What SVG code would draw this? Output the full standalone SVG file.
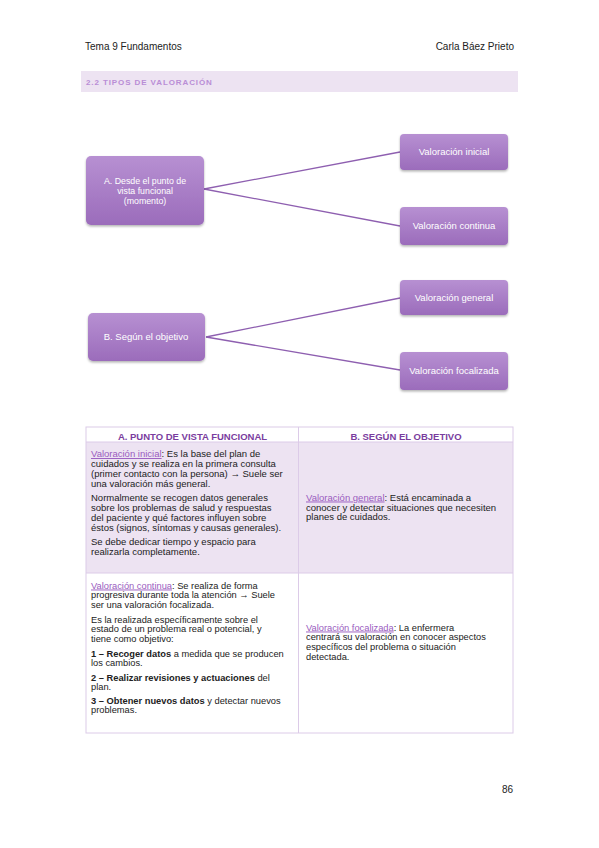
<svg xmlns="http://www.w3.org/2000/svg" width="599" height="848" viewBox="0 0 599 848">
<defs>
<linearGradient id="g" x1="0" y1="0" x2="0" y2="1">
<stop offset="0" stop-color="#b790d2"/>
<stop offset="1" stop-color="#9b6cbb"/>
</linearGradient>
<filter id="sh" x="-10%" y="-10%" width="130%" height="140%">
<feDropShadow dx="0" dy="1.5" stdDeviation="1.2" flood-color="#000" flood-opacity="0.3"/>
</filter>
<style>
text{font-family:"Liberation Sans","DejaVu Sans",sans-serif;}
.hd{font-size:10px;fill:#222;}
.band{font-size:8px;font-weight:bold;fill:#b98dd6;letter-spacing:0.9px;}
.box{fill:url(#g);filter:url(#sh);}
.nt{font-size:9.5px;fill:#fff;text-anchor:middle;}
.nt2{font-size:8.8px;fill:#fff;text-anchor:middle;}
.con{stroke:#8e5fb0;stroke-width:1.3;fill:none;}
.th{font-size:9.5px;font-weight:bold;fill:#7a3d9e;text-anchor:middle;}
.tx{font-size:9.5px;fill:#222;}
.tx2{font-size:9.3px;fill:#222;}
.lk{fill:#9a5cc0;text-decoration:underline;}
.b{font-weight:bold;}
.grid{stroke:#dccbe8;stroke-width:1;fill:none;}
</style>
</defs>
<rect width="599" height="848" fill="#fff"/>
<g id="header">
<text class="hd" x="85" y="50">Tema 9 Fundamentos</text>
<text class="hd" x="514" y="50" text-anchor="end">Carla Báez Prieto</text>
<rect x="81" y="71" width="437" height="21" fill="#ede3f2"/>
<text class="band" x="86" y="85">2.2 TIPOS DE VALORACIÓN</text>
</g>
<g id="connectors">
<line class="con" x1="204" y1="189" x2="400" y2="152"/>
<line class="con" x1="204" y1="189" x2="400" y2="226"/>
<line class="con" x1="206" y1="337" x2="400" y2="298"/>
<line class="con" x1="206" y1="337" x2="400" y2="370"/>
</g>
<g id="nodeA">
<rect class="box" x="86" y="156" width="118" height="69" rx="5"/>
<text class="nt2" x="145" y="183.5">A. Desde el punto de</text>
<text class="nt2" x="145" y="193.5">vista funcional</text>
<text class="nt2" x="145" y="203.5">(momento)</text>
</g>
<g id="nodeInicial">
<rect class="box" x="400" y="134" width="108" height="36" rx="4"/>
<text class="nt" x="454" y="155">Valoración inicial</text>
</g>
<g id="nodeContinua">
<rect class="box" x="400" y="207" width="108" height="38" rx="4"/>
<text class="nt" x="454" y="228.5">Valoración continua</text>
</g>
<g id="nodeB">
<rect class="box" x="88" y="313" width="117" height="48" rx="5"/>
<text class="nt" x="146" y="340">B. Según el objetivo</text>
</g>
<g id="nodeGeneral">
<rect class="box" x="400" y="280" width="108" height="35" rx="4"/>
<text class="nt" x="454" y="301">Valoración general</text>
</g>
<g id="nodeFocalizada">
<rect class="box" x="400" y="352" width="108" height="38" rx="4"/>
<text class="nt" x="454" y="373.5">Valoración focalizada</text>
</g>
<g id="table">
<rect x="86" y="442" width="427" height="131" fill="#ede3f2"/>
<rect class="grid" x="86" y="427" width="427" height="306"/>
<line class="grid" x1="86" y1="442" x2="513" y2="442"/>
<line class="grid" x1="86" y1="573" x2="513" y2="573"/>
<line class="grid" x1="298.5" y1="427" x2="298.5" y2="733"/>
<text class="th" x="192.5" y="439.5">A. PUNTO DE VISTA FUNCIONAL</text>
<text class="th" x="406" y="439.5">B. SEGÚN EL OBJETIVO</text>
<g class="tx">
<text x="91" y="457"><tspan class="lk">Valoración inicial</tspan>: Es la base del plan de</text>
<text x="91" y="467">cuidados y se realiza en la primera consulta</text>
<text x="91" y="477">(primer contacto con la persona) → Suele ser</text>
<text x="91" y="486.5">una valoración más general.</text>
<text x="91" y="501">Normalmente se recogen datos generales</text>
<text x="91" y="511">sobre los problemas de salud y respuestas</text>
<text x="91" y="521">del paciente y qué factores influyen sobre</text>
<text x="91" y="530.5">éstos (signos, síntomas y causas generales).</text>
<text x="91" y="545">Se debe dedicar tiempo y espacio para</text>
<text x="91" y="555">realizarla completamente.</text>
<text x="306" y="500.5"><tspan class="lk">Valoración general</tspan>: Está encaminada a</text>
<text x="306" y="510.5">conocer y detectar situaciones que necesiten</text>
<text x="306" y="520">planes de cuidados.</text>
</g>
<g class="tx2">
<text x="91" y="588.5"><tspan class="lk">Valoración continua</tspan>: Se realiza de forma</text>
<text x="91" y="598">progresiva durante toda la atención → Suele</text>
<text x="91" y="607.5">ser una valoración focalizada.</text>
<text x="91" y="622.5">Es la realizada específicamente sobre el</text>
<text x="91" y="632">estado de un problema real o potencial, y</text>
<text x="91" y="641.5">tiene como objetivo:</text>
<text x="91" y="656.5"><tspan class="b">1 – Recoger datos</tspan> a medida que se producen</text>
<text x="91" y="666">los cambios.</text>
<text x="91" y="680.5"><tspan class="b">2 – Realizar revisiones y actuaciones</tspan> del</text>
<text x="91" y="690">plan.</text>
<text x="91" y="703.5"><tspan class="b">3 – Obtener nuevos datos</tspan> y detectar nuevos</text>
<text x="91" y="713">problemas.</text>
<text x="306" y="630.5"><tspan class="lk">Valoración focalizada</tspan>: La enfermera</text>
<text x="306" y="640">centrará su valoración en conocer aspectos</text>
<text x="306" y="650">específicos del problema o situación</text>
<text x="306" y="659.5">detectada.</text>
</g>
</g>
<g id="footer">
<text class="hd" x="513" y="793" text-anchor="end">86</text>
</g>
</svg>
